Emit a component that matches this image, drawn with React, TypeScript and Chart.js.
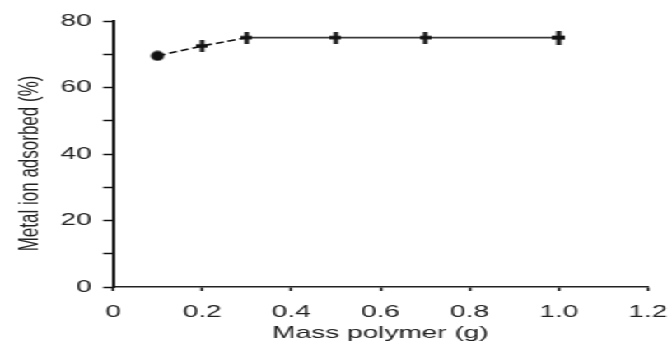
import React, { useEffect, useRef } from "react";
import { Chart, registerables } from "chart.js";

Chart.register(...registerables);

const massPolymer = [0.1, 0.2, 0.3, 0.5, 0.7, 1.0];
const metalAdsorbed = [69.5, 72.5, 75, 75, 75, 75];
const markerKinds = ["dot", "plus", "plus", "plus", "plus", "bigplus"];

const xTickValues = [0, 0.2, 0.4, 0.6, 0.8, 1.0, 1.2];
const xTickLabels = ["0", "0.2", "0.4", "0.6", "0.8", "1.0", "1.2"];
const yTickValues = [0, 10, 20, 30, 40, 50, 60, 70, 80];
const yTickLabels = ["0", "", "20", "", "40", "", "60", "", "80"];

const xTitle = "Mass polymer (g)";
const yTitle = "Metal ion adsorbed (%)";

const STRETCH = 672 / 408;
const FONT = "'Liberation Sans', Arial, sans-serif";

function makeMarker(kind: string): HTMLCanvasElement {
  const c = document.createElement("canvas");
  const ctx = c.getContext("2d")!;
  if (kind === "dot") {
    c.width = 9;
    c.height = 11;
    ctx.fillStyle = "#111";
    ctx.beginPath();
    ctx.ellipse(4.5, 5.5, 4, 5, 0, 0, Math.PI * 2);
    ctx.fill();
  } else {
    const big = kind === "bigplus";
    const w = big ? 8 : 7;
    const h = big ? 14 : 12;
    c.width = w;
    c.height = h;
    ctx.fillStyle = "#111";
    const vArm = big ? 3 : 2.6;
    const hArm = big ? 4 : 3.4;
    ctx.fillRect((w - vArm) / 2, 0, vArm, h);
    ctx.fillRect(0, (h - hArm) / 2, w, hArm);
  }
  return c;
}

export default function App() {
  const ref = useRef<HTMLCanvasElement | null>(null);

  useEffect(() => {
    if (!ref.current) return;
    const markers = markerKinds.map(makeMarker);
    const chart = new Chart(ref.current, {
      type: "scatter",
      data: {
        datasets: [
          {
            data: massPolymer.map((x, i) => ({ x, y: metalAdsorbed[i] })),
            showLine: true,
            borderColor: "#2a2a2a",
            borderWidth: 1.6,
            backgroundColor: "#111",
            pointStyle: markers as any,
            pointRadius: 5,
            segment: {
              borderDash: (ctx: any) => (ctx.p1DataIndex <= 2 ? [5, 2.5] : undefined),
              borderColor: (ctx: any) => (ctx.p1DataIndex <= 2 ? "#111" : "#3a3a3a"),
            },
          },
        ],
      },
      options: {
        responsive: false,
        animation: false,
        devicePixelRatio: 1,
        layout: { autoPadding: false, padding: { top: 21, right: 14.6, left: 0, bottom: 0 } },
        plugins: { legend: { display: false }, tooltip: { enabled: false } },
        scales: {
          x: {
            type: "linear",
            min: 0,
            max: 1.2,
            afterBuildTicks: (scale: any) => {
              scale.ticks = xTickValues.map((v) => ({ value: v }));
            },
            afterFit: (scale: any) => {
              scale.height = 61;
              scale.paddingLeft = 0;
              scale.paddingRight = 0;
            },
            grid: {
              drawOnChartArea: false,
              drawTicks: true,
              tickLength: 4,
              tickColor: "#111",
              tickWidth: 1.5,
            },
            border: { display: true, color: "#222", width: 1.5 },
            ticks: {
              autoSkip: false,
              maxRotation: 0,
              padding: 11,
              color: "#222",
              font: { family: FONT, size: 17 },
              callback: (_v: any, i: number) => xTickLabels[i],
            },
            title: {
              display: true,
              text: xTitle,
              color: "#222",
              font: { family: FONT, size: 17 },
              padding: { top: 0, bottom: 4 },
            },
          },
          y: {
            type: "linear",
            min: 0,
            max: 80,
            afterBuildTicks: (scale: any) => {
              scale.ticks = yTickValues.map((v) => ({ value: v }));
            },
            afterFit: (scale: any) => {
              scale.width = 113 / STRETCH;
            },
            grid: {
              drawOnChartArea: false,
              drawTicks: true,
              tickLength: 6,
              tickColor: "#111",
              tickWidth: 1.5,
            },
            border: { display: true, color: "#111", width: 2 },
            ticks: {
              autoSkip: false,
              padding: 7,
              color: "#222",
              font: { family: FONT, size: 17 },
              callback: (_v: any, i: number) => yTickLabels[i],
            },
            title: {
              display: true,
              text: yTitle + "    ",
              color: "#222",
              font: { family: FONT, size: 17 },
              padding: { top: 8, bottom: 0 },
            },
          },
        },
      },
    });
    return () => chart.destroy();
  }, []);

  return (
    <div
      style={{
        position: "fixed",
        left: 0,
        top: 0,
        width: 408,
        height: 348,
        transform: `scaleX(${STRETCH})`,
        transformOrigin: "0 0",
        background: "#fff",
      }}
    >
      <canvas ref={ref} width={408} height={348} />
    </div>
  );
}
